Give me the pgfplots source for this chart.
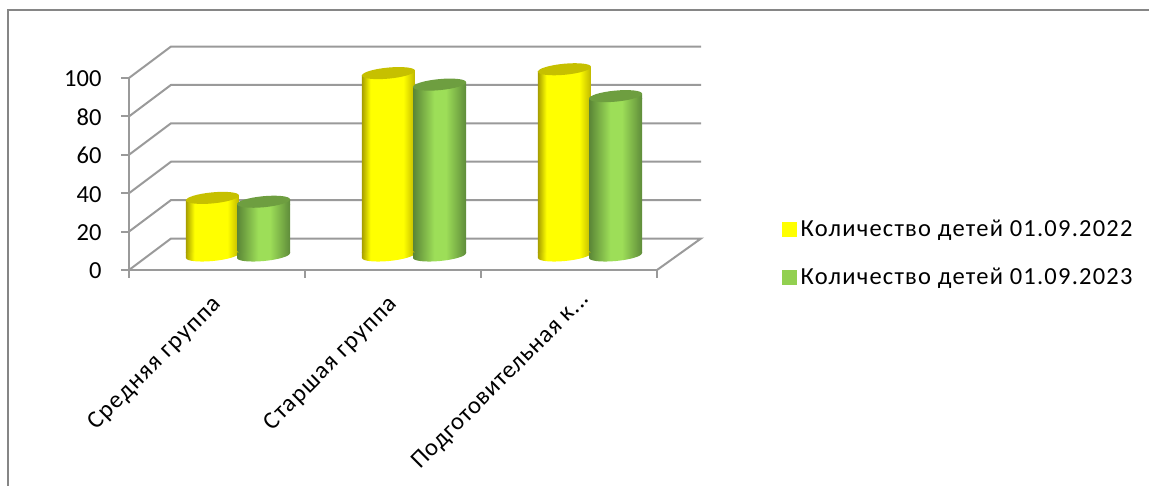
\documentclass[border=0pt]{standalone}
\usepackage{fontspec}
\setmainfont{Carlito}
\newfontfamily\widefam[LetterSpace=5]{Carlito}
\newfontfamily\midfam[LetterSpace=3]{Carlito}
\usepackage{pgfplots}
\pgfplotsset{compat=1.18}

\definecolor{axgray}{HTML}{9A9A9A}
\definecolor{framegray}{HTML}{868686}
\definecolor{yedge}{HTML}{A89F00}
\definecolor{yedgeb}{HTML}{BDB500}
\definecolor{ytop}{HTML}{C6C000}
\definecolor{ybody}{HTML}{FFFF00}
\definecolor{gedge}{HTML}{5A8536}
\definecolor{gedgeb}{HTML}{5F8C3A}
\definecolor{gtop}{HTML}{6E9E40}
\definecolor{gbody}{HTML}{9DDE58}
\definecolor{glegend}{HTML}{92D050}

% cylinder side shadings, 25bp..75bp is the width of the bar
\pgfdeclarehorizontalshading{cylY}{100bp}{color(0bp)=(yedge); color(25bp)=(yedge); color(33bp)=(ybody); color(64bp)=(ybody); color(72bp)=(yedgeb!70!ybody); color(75bp)=(yedgeb); color(100bp)=(yedgeb)}
\pgfdeclarehorizontalshading{cylG}{100bp}{color(0bp)=(gedge); color(25bp)=(gedge); color(45bp)=(gbody); color(56bp)=(gbody); color(75bp)=(gedgeb); color(100bp)=(gedgeb)}

% caps: origin is the flat end of the ybar, the ellipse is tilted like the original
\newcommand\capmarks[2]{%
  \pgfdeclareplotmark{cylbase#1}{%
    \pgfpathmoveto{\pgfpoint{-26.5pt}{-5pt}}%
    \pgfpathlineto{\pgfpoint{26.5pt}{0pt}}%
    \pgfpathlineto{\pgfpoint{26.5pt}{0.5pt}}%
    \pgfpathlineto{\pgfpoint{-26.5pt}{0.5pt}}%
    \pgfpathclose
    \pgfpathellipse{\pgfpoint{0pt}{-2.5pt}}{\pgfpoint{26.5pt}{2.5pt}}{\pgfpoint{-0.5pt}{5.5pt}}%
    \pgfshadepath{cyl#1}{0}\pgfusepath{discard}}%
  \pgfdeclareplotmark{cyltop#1}{%
    \pgfpathmoveto{\pgfpoint{-26.5pt}{-0.5pt}}%
    \pgfpathlineto{\pgfpoint{26.5pt}{-0.5pt}}%
    \pgfpathlineto{\pgfpoint{26.5pt}{5pt}}%
    \pgfpathlineto{\pgfpoint{-26.5pt}{0pt}}%
    \pgfpathclose
    \pgfshadepath{cyl#1}{0}\pgfusepath{discard}%
    \pgfsetfillcolor{#2}%
    \pgfpathellipse{\pgfpoint{0pt}{2.5pt}}{\pgfpoint{26.5pt}{2.5pt}}{\pgfpoint{-0.5pt}{5.5pt}}%
    \pgfusepathqfill}}
\capmarks{Y}{ytop}
\capmarks{G}{gtop}

% x, value, Y or G
\newcommand\cylbar[3]{%
  \addplot[only marks, mark=cylbase#3] coordinates {(#1,0)};
  \addplot[ybar, bar width=53pt, bar shift=0pt, draw=none, shade, shading=cyl#3,
    y filter/.expression={y-2.6}] coordinates {(#1,#2)};
  \addplot[only marks, mark=cyltop#3, y filter/.expression={y-2.6}] coordinates {(#1,#2)};
}

\newcommand\numfont{\fontsize{24.5}{29}\selectfont}
\newcommand\lblfont{\fontsize{24.5}{29}\selectfont\widefam}

\begin{document}
\begin{tikzpicture}
\useasboundingbox (0,0) rectangle (1149pt,485pt);

% front plane of the 3D box
\begin{axis}[
    at={(129pt,215pt)}, anchor=south west,
    scale only axis, width=528pt, height=192pt,
    xmin=0, xmax=3, ymin=0, ymax=100,
    clip=false,
    separate axis lines,
    axis x line*=bottom, axis y line*=left,
    axis line style={draw=axgray, line width=2pt},
    tick style={draw=axgray, line width=2pt},
    tick align=outside, tickwidth=8pt,
    xtick={0,1,2,3}, xticklabels={,,,},
    ytick={0,20,40,60,80,100},
    tick label style={font=\numfont, /pgf/number format/assume math mode=true},
    yticklabel style={xshift=-16pt, yshift=-1pt},
    extra x ticks={0.5,1.5,2.5},
    extra x tick labels={Средняя группа,Старшая группа,\raisebox{-8pt}[\height][\depth]{\midfam Подготовительная к.{}.{}.}\hspace*{-15pt}},
    extra x tick style={major tick length=0pt,
      xticklabel style={font=\lblfont, rotate=45, anchor=north east, xshift=-17.6pt, yshift=-9.1pt}},
    legend style={at={(1.237,0.088)}, anchor=west, draw=none, fill=none,
      font=\lblfont, row sep=26pt, inner sep=0pt},
    legend cell align=left,
]
\addlegendimage{legend image code/.code={\fill[ybody] (0pt,-7pt) rectangle (14pt,7pt); \path (16pt,0pt);}}
\addlegendentry{Количество детей 01.09.2022}
\addlegendimage{legend image code/.code={\fill[glegend] (0pt,-7pt) rectangle (14pt,7pt); \path (16pt,0pt);}}
\addlegendentry{Количество детей 01.09.2023}

% chart frame, cut by the page on the right and at the bottom
\addplot[framegray, line width=2pt, forget plot] coordinates {(-0.685,-115) (-0.685,135.4) (5.9,135.4)};

% walls and floor
\addplot[axgray, line width=2pt, forget plot] coordinates {(0,0) (0.2386,16.4) (3.25,16.4) (3,0)};
\addplot[axgray, line width=2pt, forget plot] coordinates {(0,20) (0.2386,36.4) (3.25,36.4)};
\addplot[axgray, line width=2pt, forget plot] coordinates {(0,40) (0.2386,56.4) (3.25,56.4)};
\addplot[axgray, line width=2pt, forget plot] coordinates {(0,60) (0.2386,76.4) (3.25,76.4)};
\addplot[axgray, line width=2pt, forget plot] coordinates {(0,80) (0.2386,96.4) (3.25,96.4)};
\addplot[axgray, line width=2pt, forget plot] coordinates {(0,100) (0.2386,116.4) (3.25,116.4)};
\end{axis}

% bars, half a box deeper than the front plane
\begin{axis}[
    at={(150pt,232pt)}, anchor=south west,
    scale only axis, width=528pt, height=192pt,
    xmin=0, xmax=3, ymin=0, ymax=100,
    clip=false, axis lines=none,
]
\cylbar{0.355}{30}{Y}
\cylbar{0.645}{28}{G}
\cylbar{1.355}{95}{Y}
\cylbar{1.645}{89}{G}
\cylbar{2.355}{97}{Y}
\cylbar{2.645}{83}{G}
\end{axis}
\end{tikzpicture}
\end{document}
